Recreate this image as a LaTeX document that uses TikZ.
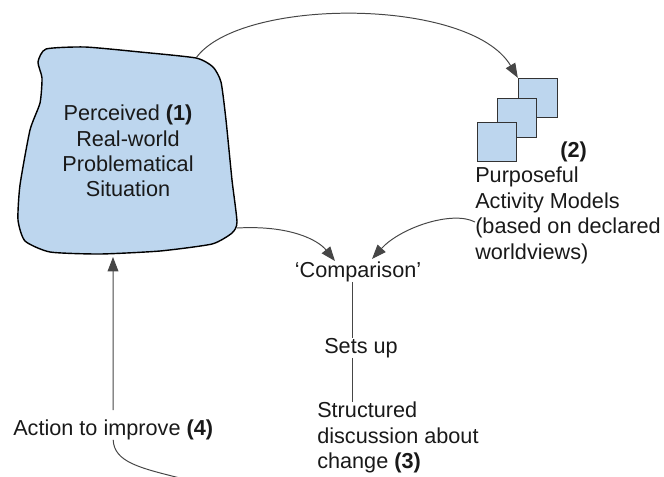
\documentclass[tikz,border=0pt]{standalone}
\usepackage{fontspec}
\setmainfont{Liberation Sans}
\usetikzlibrary{arrows.meta}
\definecolor{paleblue}{RGB}{189,214,238}
\definecolor{inkgrey}{RGB}{70,70,70}

\begin{document}
\begin{tikzpicture}[x=0.025cm,y=-0.025cm,
  arr/.style={-{Triangle[length=0.36cm,width=0.27cm]},draw=inkgrey,line width=0.7pt},
  link/.style={draw=inkgrey,line width=0.7pt},
  blob/.style={draw=black,fill=paleblue,line width=1pt},
  model/.style={draw=black!80,fill=paleblue,line width=0.8pt,minimum size=0.98cm,inner sep=0pt},
  label/.style={font=\fontsize{15.4}{18.1}\selectfont,text=black!90,inner sep=0pt},
]
\useasboundingbox (0,0) rectangle (664,476);
% the perceived situation
\draw[blob] plot[smooth cycle,tension=0.35] coordinates {
  (38,62) (46,49) (85,47) (140,52) (196,58) (213,67) (221,82) (226,120)
  (232,180) (237,222) (232,233) (212,244) (160,251) (100,254) (50,252)
  (25,241) (18,220) (20,185) (30,130) (40,103) (42,78)};
\coordinate (b1) at (196,58);
\coordinate (b2) at (237,228);
\coordinate (b3) at (113,257);
\node[label,align=center] (sit) at (128,151)
  {Perceived \textbf{(1)}\\Real-world\\Problematical\\Situation};
% activity models
\node[model] (m1) at (538,98) {};
\node[model] (m2) at (517,118) {};
\node[model] (m3) at (497,142) {};
\node[label,anchor=base west] (n2) at (560,157) {\textbf{(2)}};
\node[label,align=left,anchor=north west] (models) at (475,167)
  {Purposeful\\Activity Models\\(based on declared\\worldviews)};
% comparison and discussion
\node[label,anchor=base] (comp) at (358,277) {‘Comparison’};
\node[label,anchor=base] (setsup) at (361,353) {Sets up};
\node[label,align=left,anchor=north west] (disc) at (317,402)
  {Structured\\discussion about\\change \textbf{(3)}};
\node[label,anchor=base west] (act) at (13,435) {Action to improve \textbf{(4)}};
\coordinate (ax) at (352,0);
\coordinate (out) at (180,478);

\draw[arr] (b1) .. controls (240,-3) and (470,-3) .. (m1.north west);
\draw[arr] (b2) .. controls (290,225) and (318,240) .. (comp.north -| 335,0);
\draw[arr] (models.west |- 473,222) .. controls (452,210) and (400,228) .. (372,259);
\draw[link] (comp.south -| ax) -- (setsup.north -| ax);
\draw[link] (setsup.south -| ax) -- (disc.north -| ax);
\draw[arr] ([yshift=0.22cm]act.north) -- (b3);
\draw[link] (act.south) .. controls (114,462) and (140,468) .. (out);
\end{tikzpicture}
\end{document}
